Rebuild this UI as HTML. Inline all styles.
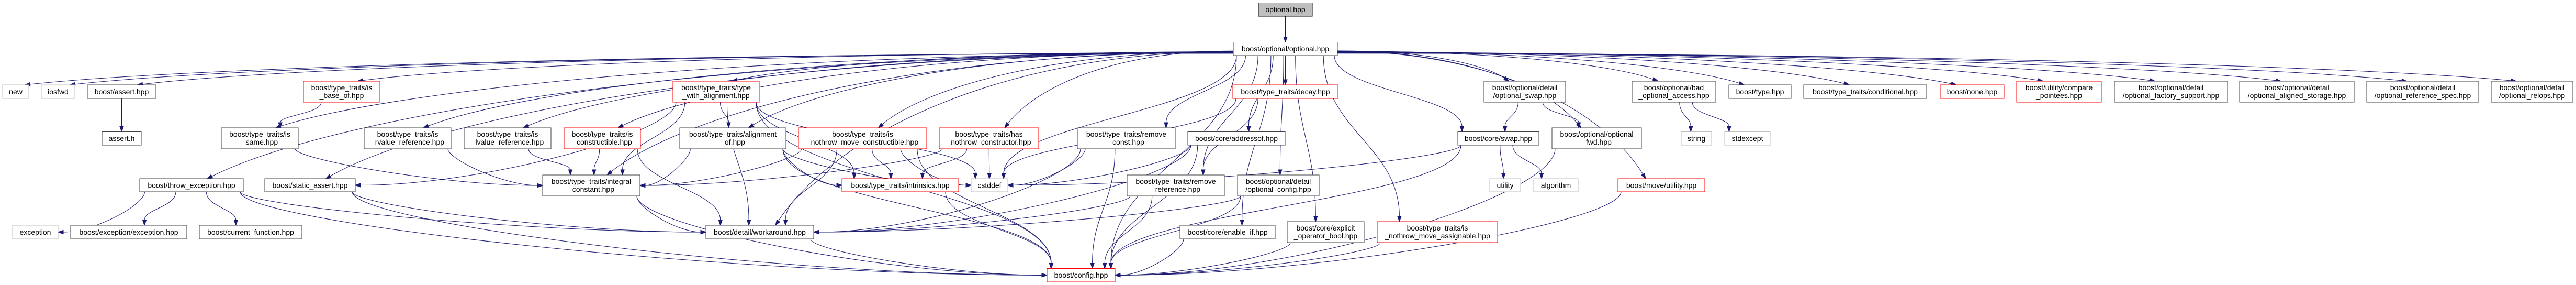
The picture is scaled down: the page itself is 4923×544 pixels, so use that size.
<!DOCTYPE html>
<html><head><meta charset="utf-8">
<style>
html,body{margin:0;padding:0;background:#fff;}
svg{display:block;}
text{font-family:"Liberation Sans",sans-serif;font-size:14px;fill:#000;text-anchor:middle;}
rect{fill:#fff;stroke-width:1;}
.k{stroke:#404040;}
.r{stroke:#ff0000;}
.g{stroke:#bfbfbf;}
</style></head>
<body>
<svg id="s" width="4923" height="544" viewBox="0 0 4923 544" xmlns="http://www.w3.org/2000/svg">
<g id="edges" fill="none" stroke="#191970" stroke-width="1"></g>
<g id="arrows" fill="#191970" stroke="#191970"></g>
<g id="nodes">
<g id="root"><rect x="2405" y="5.5" width="103" height="25.5" style="fill:#bfbfbf;stroke:#000"/><text x="2456.5" y="23">optional.hpp</text></g>
<g id="O"><rect class="k" x="2357" y="80.5" width="199" height="25.5"/><text x="2456.5" y="98">boost/optional/optional.hpp</text></g>

<g id="new"><rect class="g" x="5" y="162" width="50" height="26"/><text x="30" y="180">new</text></g>
<g id="iosfwd"><rect class="g" x="79" y="162" width="64" height="26"/><text x="111" y="180">iosfwd</text></g>
<g id="assert"><rect class="k" x="167" y="162" width="131" height="26"/><text x="232.5" y="180">boost/assert.hpp</text></g>
<g id="isbase"><rect class="r" x="580" y="155" width="146" height="40"/><text x="653" y="172">boost/type_traits/is</text><text x="653" y="187">_base_of.hpp</text></g>
<g id="twa"><rect class="r" x="1286" y="155" width="165" height="40"/><text x="1368.5" y="172">boost/type_traits/type</text><text x="1368.5" y="187">_with_alignment.hpp</text></g>
<g id="decay"><rect class="r" x="2356" y="162" width="201" height="26"/><text x="2456.5" y="180">boost/type_traits/decay.hpp</text></g>
<g id="optswap"><rect class="k" x="2836" y="155" width="156" height="40"/><text x="2914" y="172">boost/optional/detail</text><text x="2914" y="187">/optional_swap.hpp</text></g>
<g id="bad"><rect class="k" x="3119" y="155" width="160" height="40"/><text x="3199" y="172">boost/optional/bad</text><text x="3199" y="187">_optional_access.hpp</text></g>
<g id="type"><rect class="k" x="3304" y="162" width="119" height="26"/><text x="3363.5" y="180">boost/type.hpp</text></g>
<g id="cond"><rect class="k" x="3447" y="162" width="235" height="26"/><text x="3564.5" y="180">boost/type_traits/conditional.hpp</text></g>
<g id="none"><rect class="r" x="3708" y="162" width="122" height="26"/><text x="3769" y="180">boost/none.hpp</text></g>
<g id="cmp"><rect class="r" x="3854" y="155" width="162" height="40"/><text x="3935" y="172">boost/utility/compare</text><text x="3935" y="187">_pointees.hpp</text></g>
<g id="fact"><rect class="k" x="4041" y="155" width="216" height="40"/><text x="4149" y="172">boost/optional/detail</text><text x="4149" y="187">/optional_factory_support.hpp</text></g>
<g id="align"><rect class="k" x="4280" y="155" width="219" height="40"/><text x="4389.5" y="172">boost/optional/detail</text><text x="4389.5" y="187">/optional_aligned_storage.hpp</text></g>
<g id="refspec"><rect class="k" x="4523" y="155" width="214" height="40"/><text x="4630" y="172">boost/optional/detail</text><text x="4630" y="187">/optional_reference_spec.hpp</text></g>
<g id="relops"><rect class="k" x="4761" y="155" width="156" height="40"/><text x="4839" y="172">boost/optional/detail</text><text x="4839" y="187">/optional_relops.hpp</text></g>

<g id="asserth"><rect class="k" x="195" y="251.5" width="75" height="25.5"/><text x="232.5" y="269">assert.h</text></g>
<g id="issame"><rect class="k" x="423" y="244" width="147" height="40"/><text x="496.5" y="261">boost/type_traits/is</text><text x="496.5" y="276">_same.hpp</text></g>
<g id="isrv"><rect class="k" x="696" y="244" width="166" height="40"/><text x="779" y="261">boost/type_traits/is</text><text x="779" y="276">_rvalue_reference.hpp</text></g>
<g id="islv"><rect class="k" x="887" y="244" width="166" height="40"/><text x="970" y="261">boost/type_traits/is</text><text x="970" y="276">_lvalue_reference.hpp</text></g>
<g id="iscons"><rect class="r" x="1078" y="244" width="146" height="40"/><text x="1151" y="261">boost/type_traits/is</text><text x="1151" y="276">_constructible.hpp</text></g>
<g id="alignof"><rect class="k" x="1299" y="244" width="203" height="40"/><text x="1400.5" y="261">boost/type_traits/alignment</text><text x="1400.5" y="276">_of.hpp</text></g>
<g id="nmc"><rect class="r" x="1526" y="244" width="245" height="40"/><text x="1648.5" y="261">boost/type_traits/is</text><text x="1648.5" y="276">_nothrow_move_constructible.hpp</text></g>
<g id="hnc"><rect class="r" x="1795" y="244" width="190" height="40"/><text x="1890" y="261">boost/type_traits/has</text><text x="1890" y="276">_nothrow_constructor.hpp</text></g>
<g id="remconst"><rect class="k" x="2059" y="244" width="187" height="40"/><text x="2152.5" y="261">boost/type_traits/remove</text><text x="2152.5" y="276">_const.hpp</text></g>
<g id="addr"><rect class="k" x="2270" y="251.5" width="186" height="25.5"/><text x="2363" y="269">boost/core/addressof.hpp</text></g>
<g id="swap"><rect class="k" x="2786" y="251.5" width="155" height="25.5"/><text x="2863.5" y="269">boost/core/swap.hpp</text></g>
<g id="optfwd"><rect class="k" x="2966" y="244" width="171" height="40"/><text x="3051.5" y="261">boost/optional/optional</text><text x="3051.5" y="276">_fwd.hpp</text></g>
<g id="str"><rect class="g" x="3213" y="251.5" width="58" height="25.5"/><text x="3242" y="269">string</text></g>
<g id="stdexcept"><rect class="g" x="3296" y="251.5" width="87" height="25.5"/><text x="3339.5" y="269">stdexcept</text></g>

<g id="throw"><rect class="k" x="267" y="341" width="198" height="25"/><text x="366" y="358.5">boost/throw_exception.hpp</text></g>
<g id="sassert"><rect class="k" x="506" y="341" width="173" height="25"/><text x="592.5" y="358.5">boost/static_assert.hpp</text></g>
<g id="integral"><rect class="k" x="1037" y="334" width="186" height="40"/><text x="1130" y="351">boost/type_traits/integral</text><text x="1130" y="366">_constant.hpp</text></g>
<g id="intrinsics"><rect class="r" x="1609" y="341" width="223" height="25"/><text x="1720.5" y="358.5">boost/type_traits/intrinsics.hpp</text></g>
<g id="cstddef"><rect class="g" x="1856" y="341" width="70" height="25"/><text x="1891" y="358.5">cstddef</text></g>
<g id="remref"><rect class="k" x="2154" y="334" width="186" height="40"/><text x="2247" y="351">boost/type_traits/remove</text><text x="2247" y="366">_reference.hpp</text></g>
<g id="optcfg"><rect class="k" x="2365" y="334" width="156" height="40"/><text x="2443" y="351">boost/optional/detail</text><text x="2443" y="366">/optional_config.hpp</text></g>
<g id="utility"><rect class="g" x="2847" y="341" width="59" height="25"/><text x="2876.5" y="358.5">utility</text></g>
<g id="algorithm"><rect class="g" x="2931" y="341" width="85" height="25"/><text x="2973.5" y="358.5">algorithm</text></g>
<g id="moveutil"><rect class="r" x="3092" y="341" width="166" height="25"/><text x="3175" y="358.5">boost/move/utility.hpp</text></g>

<g id="exception"><rect class="g" x="24" y="430" width="87" height="26"/><text x="67.5" y="448">exception</text></g>
<g id="excexc"><rect class="k" x="135" y="430" width="222" height="26"/><text x="246" y="448">boost/exception/exception.hpp</text></g>
<g id="curfn"><rect class="k" x="381" y="430" width="196" height="26"/><text x="479" y="448">boost/current_function.hpp</text></g>
<g id="workaround"><rect class="k" x="1349" y="430" width="206" height="26"/><text x="1452" y="448">boost/detail/workaround.hpp</text></g>
<g id="enableif"><rect class="k" x="2255" y="430" width="182" height="26"/><text x="2346" y="448">boost/core/enable_if.hpp</text></g>
<g id="eob"><rect class="k" x="2460" y="423" width="147" height="40"/><text x="2533.5" y="440">boost/core/explicit</text><text x="2533.5" y="455">_operator_bool.hpp</text></g>
<g id="nma"><rect class="r" x="2632" y="423" width="230" height="40"/><text x="2747" y="440">boost/type_traits/is</text><text x="2747" y="455">_nothrow_move_assignable.hpp</text></g>

<g id="config"><rect class="r" x="2001" y="512.5" width="130" height="25.5"/><text x="2066" y="530">boost/config.hpp</text></g>
</g>
</svg>
<script>
var E={
root:["O"],
O:["new","iosfwd","assert","throw","sassert","issame","isbase","isrv","islv","iscons","twa","alignof","nmc","hnc","remconst","addr","decay","remref","optcfg","enableif","eob","nma","optswap","swap","optfwd","moveutil","bad","type","cond","none","cmp","fact","align","refspec","relops","config","workaround","cstddef","integral"],
assert:["asserth"],isbase:["issame"],
throw:["exception","excexc","curfn","workaround","config"],
sassert:["workaround","config"],
issame:["integral"],isrv:["integral"],islv:["integral"],
iscons:["integral","workaround"],
twa:["alignof","workaround","integral","sassert","intrinsics","cstddef","config"],
alignof:["integral","config","intrinsics","cstddef"],
nmc:["integral","workaround","intrinsics","config","cstddef"],
hnc:["intrinsics","cstddef","integral"],
integral:["workaround","config"],workaround:["config"],intrinsics:["config"],
remconst:["cstddef","config","workaround"],
addr:["config","workaround","cstddef"],
decay:["remref","cstddef"],
remref:["config","workaround"],optcfg:["config","workaround"],
enableif:["config"],eob:["config"],nma:["config"],
optswap:["swap","optfwd"],
swap:["utility","algorithm","config","cstddef"],
optfwd:["config"],moveutil:["config"],
bad:["str","stdexcept"]
};
function box(id){var r=document.querySelector('#'+id+' rect');return{x:+r.getAttribute('x'),y:+r.getAttribute('y'),w:+r.getAttribute('width'),h:+r.getAttribute('height')};}
var eg=document.getElementById('edges'),ag=document.getElementById('arrows'),NS="http://www.w3.org/2000/svg";
function cl(v,a){return Math.max(-a,Math.min(a,v));}
for(var s in E){var a=box(s);E[s].forEach(function(t){
 var b=box(t);
 var ax=a.x+a.w/2,bx=b.x+b.w/2;
 var dx=bx-ax;
 var up=b.y<a.y;
 var p0,c1,c2,p3;
 var sy=up?a.y:a.y+a.h;
 var ty=up?b.y+b.h:b.y;
 var dy=ty-sy;
 if(Math.abs(dx)>3*Math.abs(dy)&&s==="O"){
   var sg=dx>0?1:-1;
   p0=[sg>0?a.x+a.w:a.x,a.y+a.h*0.6+cl(Math.abs(dx)/400,8)];
   var ddx=bx-p0[0];
   p3=[bx-sg*Math.min(b.w*0.35,30),b.y];
   c1=[p0[0]+ddx*0.5,p0[1]];
   c2=[p3[0]-ddx*0.12,p3[1]-(p3[1]-p0[1])*0.5];
 }else if(Math.abs(dx)>4*Math.abs(dy)){
   var sg2=dx>0?1:-1;
   p0=[ax+cl(dx*0.3,a.w/2-6),sy];
   p3=[sg2>0?b.x:b.x+b.w,b.y+b.h/2];
   c1=[p0[0],p0[1]+dy*0.4];
   c2=[p3[0]-(p3[0]-p0[0])*0.4,p3[1]];
 }else{
   p0=[ax+cl(dx*0.25,a.w/2-6),sy];
   p3=[bx-cl(dx*0.25,b.w/2-8),ty];
   c1=[p0[0],p0[1]+dy*0.45];
   c2=[p3[0],p3[1]-dy*0.45];
 }
 var vx=p3[0]-c2[0],vy=p3[1]-c2[1],L=Math.hypot(vx,vy)||1;vx/=L;vy/=L;
 var e=[p3[0]-vx*10,p3[1]-vy*10];
 var c2b=[c2[0]-vx*2,c2[1]-vy*2];
 var p=document.createElementNS(NS,'path');
 p.setAttribute('d','M'+p0[0]+','+p0[1]+' C'+c1[0]+','+c1[1]+' '+c2b[0]+','+c2b[1]+' '+e[0]+','+e[1]);
 eg.appendChild(p);
 var nx=-vy,ny=vx;
 var tri=document.createElementNS(NS,'polygon');
 tri.setAttribute('points',p3[0]+','+p3[1]+' '+(e[0]+nx*3.5)+','+(e[1]+ny*3.5)+' '+(e[0]-nx*3.5)+','+(e[1]-ny*3.5));
 ag.appendChild(tri);
});}
</script>
</body></html>
